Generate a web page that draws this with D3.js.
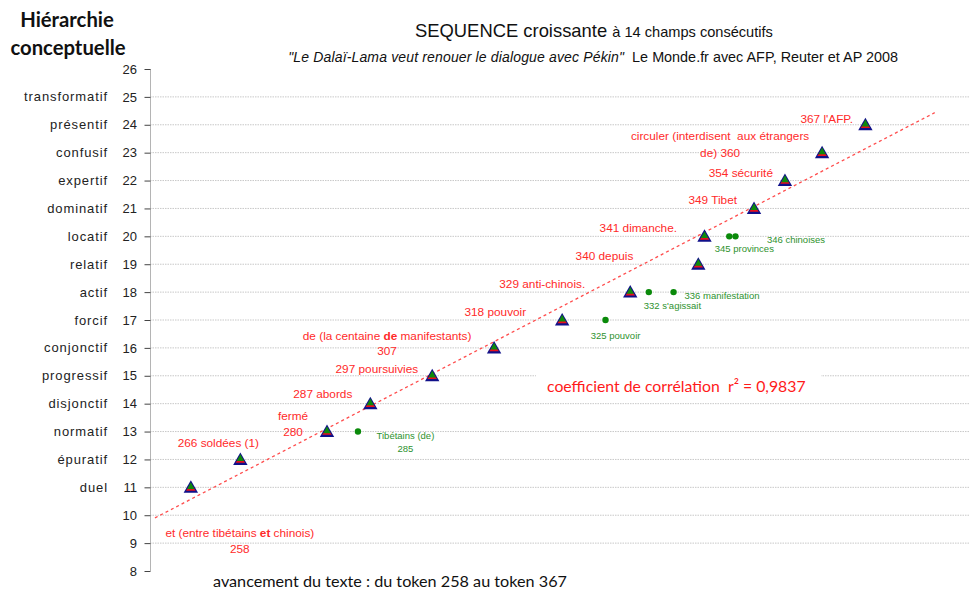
<!DOCTYPE html>
<html><head><meta charset="utf-8">
<script src="https://cdn.jsdelivr.net/npm/d3@7"></script>
<style>
body{margin:0;background:#fff}
svg{display:block}
text{white-space:pre}
</style>
</head><body>
<svg id="c" width="971" height="593"></svg>
<script>
// ---- data ----
const yTicks = [8,9,10,11,12,13,14,15,16,17,18,19,20,21,22,23,24,25,26];
const gridLevels = [9,10,11,12,13,14,15,16,17,18,19,20,21,22,23,24,25];
const conceptLevels = [11,12,13,14,15,16,17,18,19,20,21,22,23,24,25];
const conceptNames = ["duel","épuratif","normatif","disjonctif","progressif","conjonctif","forcif","actif","relatif","locatif","dominatif","expertif","confusif","présentif","transformatif"];

const seqTokens = [258,266,280,287,297,307,318,329,340,341,349,354,360,367];
const seqLevels = [11,12,13,14,15,16,17,18,19,20,21,22,23,24];
const seqLabels = [
  ["et (entre tibétains **et** chinois)","258"],
  ["266 soldées (1)"],
  ["fermé","280"],
  ["287 abords"],
  ["297 poursuivies"],
  ["de (la centaine **de** manifestants)","307"],
  ["318 pouvoir"],
  ["329 anti-chinois."],
  ["340 depuis"],
  ["341 dimanche."],
  ["349 Tibet"],
  ["354 sécurité"],
  ["circuler (interdisent  aux étrangers","de) 360"],
  ["367 l'AFP."]
];

const otherTokens = [285,325,332,336,345,346];
const otherLevels = [13,17,18,18,20,20];
const otherLabels = [
  ["Tibétains (de)","285"],
  ["325 pouvoir"],
  ["332 s'agissait"],
  ["336 manifestation"],
  ["345 provinces"],
  ["346 chinoises"]
];

const trendSpan = [252.2, 378.2];
const r2Text = "coefficient de corrélation  r² = 0,9837";

// ---- drawing ----
const svg = d3.select("#c");
const x = d3.scaleLinear().domain([251.4, 383.9]).range([150, 970]);
const y = d3.scaleLinear().domain([8, 26]).range([571, 69]);
const ARIAL = "'Liberation Sans', Arial, sans-serif";
const CAL = "Lato, 'Open Sans', sans-serif";

// gridlines
svg.append("g").selectAll("line").data(gridLevels).join("line")
  .attr("x1", 150).attr("x2", 970)
  .attr("y1", d => y(d)).attr("y2", d => y(d))
  .attr("stroke", "#c8c8c8").attr("stroke-width", 1)
  .attr("stroke-dasharray", "1.5,1");

// y axis
const yAxis = d3.axisLeft(y).tickValues(yTicks).tickSize(6).tickPadding(6).tickFormat(d3.format("d"));
const ga = svg.append("g").attr("transform", "translate(150.5,0)").call(yAxis);
ga.select(".domain").attr("stroke", "#b4b4b4").attr("d", `M0,${y(26)}V${y(8)}`);
ga.selectAll(".tick line").attr("stroke", "#444");
ga.selectAll(".tick text").attr("font-family", ARIAL).attr("font-size", 13)
  .attr("fill", "#222").attr("x", -13.5);

// concept names
svg.append("g").selectAll("text").data(conceptLevels).join("text")
  .attr("x", 108).attr("y", d => y(d)).attr("dy", "0.35em")
  .attr("text-anchor", "end")
  .attr("font-family", ARIAL).attr("font-size", 13).attr("letter-spacing", 0.9)
  .attr("fill", "#222")
  .text((d, i) => conceptNames[i]);

// trend line (least squares on sequence)
const mx = d3.mean(seqTokens), my = d3.mean(seqLevels);
const sxy = d3.sum(seqTokens, (t, i) => (t - mx) * (seqLevels[i] - my));
const sxx = d3.sum(seqTokens, t => (t - mx) * (t - mx));
const slope = sxy / sxx, icpt = my - slope * mx;
svg.append("line")
  .attr("x1", x(trendSpan[0])).attr("y1", y(icpt + slope * trendSpan[0]))
  .attr("x2", x(trendSpan[1])).attr("y2", y(icpt + slope * trendSpan[1]))
  .attr("stroke", "#ff4d4d").attr("stroke-width", 1.3).attr("stroke-dasharray", "3,3");

// green dots
svg.append("g").selectAll("circle").data(otherTokens).join("circle")
  .attr("cx", d => x(d)).attr("cy", (d, i) => y(otherLevels[i])).attr("r", 3.2)
  .attr("fill", "#0a8a0a");

// triangles
const tri = (cx, cy, hw, top, bot) => `M${cx},${cy + top}L${cx + hw},${cy + bot}L${cx - hw},${cy + bot}Z`;
const tg = svg.append("g").selectAll("g").data(seqTokens).join("g");
tg.append("path").attr("d", (d, i) => tri(x(d), y(seqLevels[i]), 7.2, -7, 5.5)).attr("fill", "#10108a");
tg.append("path").attr("d", (d, i) => tri(x(d), y(seqLevels[i]), 4.8, -3.5, 3.3)).attr("fill", "#e8101a");
tg.append("path").attr("d", (d, i) => tri(x(d), y(seqLevels[i]), 3.6, -5.2, 1.6)).attr("fill", "#0d8a0d");

// label helper
function addLabel(g, lines, px, py, anchor, size, lh, color) {
  const t = g.append("text").attr("text-anchor", anchor)
    .attr("font-family", ARIAL).attr("font-size", size).attr("fill", color);
  lines.forEach((ln, k) => {
    const parts = ln.split("**");
    parts.forEach((p, j) => {
      const s = t.append("tspan").text(p);
      if (j === 0) s.attr("x", px).attr("y", py + k * lh);
      if (j % 2 === 1) s.attr("font-weight", "bold");
    });
  });
}

// red label placement: [dx, dy, anchor, lineHeight]
const seqPlace = [
  [49, 49.7, "middle", 16],
  [-22, -12.7, "middle", 0],
  [-34, -11.6, "middle", 16],
  [-18, -5.7, "end", 0],
  [-14, -3, "end", 0],
  [-107, -8, "middle", 15],
  [-36, -4, "end", 0],
  [-45, -4, "end", 0],
  [-65, -4, "end", 0],
  [-27.5, -4.3, "end", 0],
  [-17, -4.4, "end", 0],
  [-12, -3.6, "end", 0],
  [-102, -12.7, "middle", 17],
  [-12.4, -1.8, "end", 0]
];
const lg = svg.append("g");
seqTokens.forEach((t, i) => {
  const p = seqPlace[i];
  addLabel(lg, seqLabels[i], x(t) + p[0], y(seqLevels[i]) + p[1], p[2], 11.8, p[3], "#ff2a2a");
});
const otherPlace = [
  [47.5, 7.7, "middle", 12.4],
  [-14.7, 19, "start", 0],
  [-5, 17.2, "start", 0],
  [11, 7, "start", 0],
  [-14.5, 16, "start", 0],
  [31.5, 6.4, "start", 0]
];
otherTokens.forEach((t, i) => {
  const p = otherPlace[i];
  addLabel(lg, otherLabels[i], x(t) + p[0], y(otherLevels[i]) + p[1], p[2], 9.5, p[3], "#2e922e");
});

// r2 box
svg.append("rect").attr("x", 536).attr("y", 369).attr("width", 285).attr("height", 30).attr("fill", "#fff");
svg.append("text").attr("x", 547).attr("y", 392)
  .attr("font-family", CAL).attr("font-size", 15.8).attr("fill", "#ff1a1a").text(r2Text);

// titles
const ht = svg.append("text").attr("text-anchor", "middle").attr("font-family", CAL)
  .attr("font-weight", "bold").attr("font-size", 20.3).attr("fill", "#111");
ht.append("tspan").attr("x", 67).attr("y", 27).text("Hiérarchie");
ht.append("tspan").attr("x", 68).attr("y", 55).text("conceptuelle");

const t1 = svg.append("text").attr("x", 415).attr("y", 37).attr("font-family", ARIAL).attr("fill", "#111");
t1.append("tspan").attr("font-size", 18.4).text("SEQUENCE croissante ");
t1.append("tspan").attr("font-size", 14.6).text("à 14 champs consécutifs");

const t2 = svg.append("text").attr("x", 898).attr("y", 62).attr("text-anchor", "end")
  .attr("font-family", ARIAL).attr("fill", "#111");
t2.append("tspan").attr("font-size", 14).attr("font-style", "italic").attr("letter-spacing", 0.15)
  .text("\"Le Dalaï-Lama veut renouer le dialogue avec Pékin\"");
t2.append("tspan").attr("font-size", 14.4).text("  Le Monde.fr avec AFP, Reuter et AP 2008");

svg.append("text").attr("x", 213).attr("y", 587).attr("font-family", CAL)
  .attr("font-size", 16.2).attr("fill", "#111")
  .text("avancement du texte : du token 258 au token 367");
</script>
</body></html>
